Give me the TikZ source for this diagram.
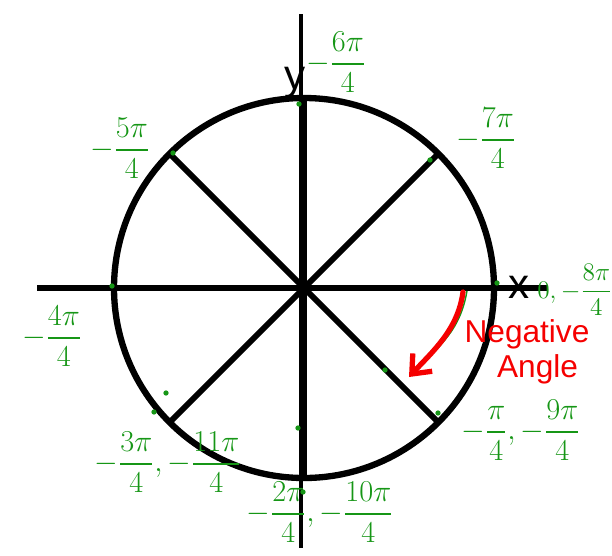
\documentclass[tikz,border=0pt]{standalone}
\usepackage{amsmath}
\usepackage{fontspec}
\setsansfont{Liberation Sans}
\usetikzlibrary{arrows.meta, calc}
\definecolor{cGreen}{RGB}{22,150,22}
\definecolor{cRed}{RGB}{245,0,0}
\tikzset{
	rim/.style      ={draw=black, line width=3.6pt},
	axis/.style     ={draw=black, line width=3.2pt},
	spoke/.style    ={draw=black, line width=3.4pt},
	gdot/.style     ={circle, fill=cGreen, inner sep=0pt, minimum size=3pt},
	glab/.style     ={text=cGreen, inner sep=0pt, font=\fontsize{16}{19}\selectfont},
	axlab/.style    ={inner sep=0pt, font=\sffamily\fontsize{24}{26}\selectfont},
	redlab/.style   ={text=cRed, inner sep=0pt, align=center, font=\sffamily\fontsize{18}{18}\selectfont},
	negarrow/.style ={draw=cRed, line width=3pt, line cap=round, -{Straight Barb[length=9pt, width=15pt, line width=3pt]}},
}

\begin{document}
\begin{tikzpicture}[x=0.02cm, y=-0.02cm]
	\useasboundingbox (0,0) rectangle (612,555);
	% unit circle and its spokes
	\coordinate (o) at (304,288);
	\coordinate (e) at (494,288);
	\coordinate (w) at (114,288);
	\coordinate (n) at (303,98);
	\coordinate (s) at (303,478);
	\coordinate (ne) at (438,154);
	\coordinate (nw) at (170,154);
	\coordinate (se) at (438,422);
	\coordinate (sw) at (170,422);
	\coordinate (xl) at (37,288);
	\coordinate (xr) at (548,288);
	\coordinate (yt) at (301,14);
	\coordinate (yb) at (301,548);
	\draw[axis] (xl) -- (xr);
	\draw[axis, line width=2.6pt] (yt) -- (yb);
	\draw[spoke, line width=4.2pt] (n) -- (s);
	\draw[spoke] (nw) -- (se);
	\draw[spoke] (sw) -- (ne);
	\draw[rim] (o) circle (190);
	\node[axlab] (xlab) at (519,287) {x};
	\node[axlab, anchor=south] (ylab) at (295,99) {y};
	% green marks on the circle
	\foreach \p in {(299,104), (173,153), (430,160), (112,286), (497,283),
		(438,413), (385,370), (298,428), (166,393), (154,412), (303,492)}
		\node[gdot] at \p {};
	% angle labels
	\node[glab] (l0) at (336,62) {$-\dfrac{6\pi}{4}$};
	\node[glab] (l1) at (120,148) {$-\dfrac{5\pi}{4}$};
	\node[glab] (l2) at (486,138) {$-\dfrac{7\pi}{4}$};
	\node[glab, anchor=west, font=\fontsize{13.5}{16}\selectfont] (l3) at (537,290) {$0,-\dfrac{8\pi}{4}$};
	\node[glab] (l4) at (52,336) {$-\dfrac{4\pi}{4}$};
	\node[glab] (l5) at (168,462) {$-\dfrac{3\pi}{4},-\dfrac{11\pi}{4}$};
	\node[glab] (l6) at (320,512) {$-\dfrac{2\pi}{4},-\dfrac{10\pi}{4}$};
	\node[glab] (l7) at (521,430) {$-\dfrac{\pi}{4},-\dfrac{9\pi}{4}$};
	% direction of a negative angle
	\coordinate (a0) at (463,292);
	\coordinate (a1) at (409,377);
	\draw[cGreen, line width=0.8pt] (467,291) .. controls (462,320) and (450,335) .. (436,350);
	\draw[negarrow] (a0) .. controls (458,330) and (432,352) .. (a1);
	\node[redlab] (neg) at (527,352) {Negative\\[2pt]\hspace*{12pt}Angle};
\end{tikzpicture}
\end{document}
